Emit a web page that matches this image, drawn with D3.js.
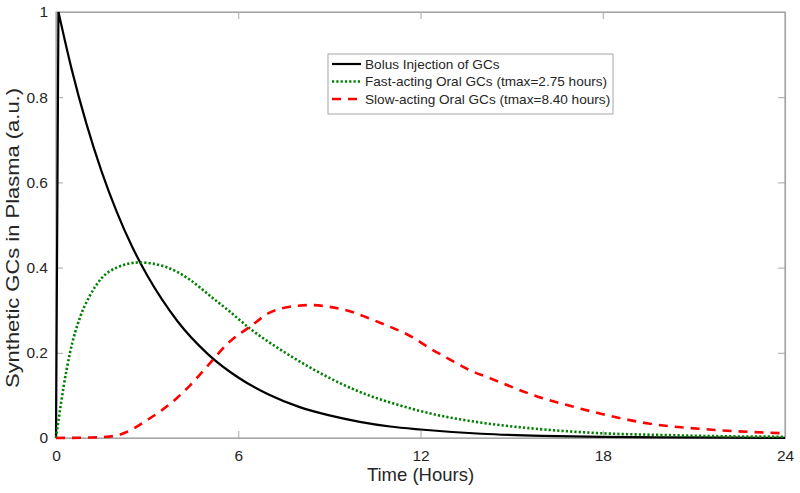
<!DOCTYPE html>
<html>
<head>
<meta charset="utf-8">
<script src="https://cdn.jsdelivr.net/npm/d3@7"></script>
<style>
  body { margin: 0; background: #fff; }
  text { font-family: Helvetica, Arial, "Liberation Sans", sans-serif; fill: #262626; }
</style>
</head>
<body>
<div id="chart"></div>
<script>
// values
const bolusT = [0, 0.08, 0.5, 1, 1.5, 2, 2.5, 3, 3.5, 4, 5, 6, 7, 8, 9, 10, 11, 12, 14, 16, 18, 20, 22, 24];
const bolusV = [0, 1, 0.87, 0.738, 0.626, 0.531, 0.45, 0.382, 0.324, 0.274, 0.197, 0.142, 0.102, 0.073, 0.053, 0.038, 0.027, 0.02, 0.01, 0.005, 0.0025, 0.0013, 0.0007, 0.0004];

const fastT = [0, 0.1, 0.25, 0.46, 0.8, 1.1, 1.5, 2, 2.75, 3.6, 4.4, 5.1, 5.7, 6.4, 7.4, 8.4, 9.4, 10.3, 11.3, 12.3, 14, 15.6, 18, 20, 22, 24];
const fastV = [0, 0.05, 0.12, 0.2, 0.285, 0.332, 0.375, 0.4, 0.412, 0.402, 0.372, 0.332, 0.298, 0.256, 0.207, 0.164, 0.127, 0.1, 0.077, 0.058, 0.036, 0.023, 0.011, 0.007, 0.004, 0.003];

const slowT = [0, 1, 1.5, 2, 2.5, 3, 3.5, 4, 4.5, 5, 5.7, 6.4, 7, 7.7, 8.4, 9, 9.7, 10.3, 11, 11.7, 12.3, 13, 13.6, 14.3, 15, 15.7, 17, 18, 19.5, 21.5, 24];
const slowV = [0, 0.001, 0.002, 0.006, 0.02, 0.042, 0.066, 0.095, 0.13, 0.17, 0.225, 0.262, 0.293, 0.308, 0.312, 0.308, 0.297, 0.281, 0.261, 0.238, 0.211, 0.183, 0.16, 0.14, 0.12, 0.101, 0.074, 0.056, 0.034, 0.02, 0.011];

const xTicks = [0, 6, 12, 18, 24];
const yTicks = [0, 0.2, 0.4, 0.6, 0.8, 1];
const yTickLabels = ["0", "0.2", "0.4", "0.6", "0.8", "1"];
const legendLabels = [
  "Bolus Injection of GCs",
  "Fast-acting Oral GCs (tmax=2.75 hours)",
  "Slow-acting Oral GCs (tmax=8.40 hours)"
];

const divWidth = 800;
const divHeight = 493;
const margins = { top: 12, bottom: 55, left: 56, right: 15 };
const width = divWidth - margins.left - margins.right;
const height = divHeight - margins.top - margins.bottom;
const frameColor = "#a6a6a6";
const tickLen = 7;

const series = [
  { t: bolusT, v: bolusV, color: "#000000", width: 2.2, dash: null },
  { t: fastT, v: fastV, color: "#008000", width: 2.6, dash: "2.2,2.1" },
  { t: slowT, v: slowV, color: "#ff0000", width: 2.6, dash: "9,7" }
];

const svg = d3.select("#chart")
  .append("svg")
  .attr("width", divWidth)
  .attr("height", divHeight);

const g = svg.append("g")
  .attr("transform", `translate(${margins.left},${margins.top})`);

const x = d3.scaleLinear().domain([0, 24]).range([0, width]);
const y = d3.scaleLinear().domain([0, 1]).range([height, 0]);

// box frame
g.append("rect")
  .attr("width", width)
  .attr("height", height)
  .attr("fill", "none")
  .attr("stroke", frameColor)
  .attr("stroke-width", 1.2);

// bottom + left axes with inward ticks
g.append("g")
  .attr("transform", `translate(0,${height})`)
  .call(d3.axisBottom(x).tickValues(xTicks).tickSizeInner(-tickLen).tickSizeOuter(0).tickPadding(12).tickFormat(d3.format("d")));

g.append("g")
  .call(d3.axisLeft(y).tickValues(yTicks).tickSizeInner(-tickLen).tickSizeOuter(0).tickPadding(8)
    .tickFormat((d, i) => yTickLabels[i]));

// mirror ticks on top and right
g.append("g")
  .call(d3.axisTop(x).tickValues(xTicks).tickSizeInner(-tickLen).tickSizeOuter(0).tickFormat(""));
g.append("g")
  .attr("transform", `translate(${width},0)`)
  .call(d3.axisRight(y).tickValues(yTicks).tickSizeInner(-tickLen).tickSizeOuter(0).tickFormat(""));

g.selectAll(".domain").attr("stroke", frameColor).attr("stroke-width", 1.2);
g.selectAll(".tick line").attr("stroke", frameColor);
g.selectAll(".tick text")
  .style("font-size", "15.5px")
  .attr("fill", "#262626");

// curves
const smooth = d3.line()
  .x(d => x(d[0]))
  .y(d => y(d[1]))
  .curve(d3.curveMonotoneX);
const straight = d3.line()
  .x(d => x(d[0]))
  .y(d => y(d[1]));

series.forEach((s, i) => {
  const pts = d3.zip(s.t, s.v);
  // bolus: sharp linear rise to the peak, then smooth decay
  const d = i === 0
    ? straight(pts.slice(0, 2)) + smooth(pts.slice(1)).replace(/^M/, "L")
    : smooth(pts);
  g.append("path")
    .attr("fill", "none")
    .attr("stroke", s.color)
    .attr("stroke-width", s.width)
    .attr("stroke-dasharray", s.dash)
    .attr("stroke-linejoin", "miter")
    .attr("d", d);
});

// axis labels
svg.append("text")
  .attr("x", margins.left + width / 2)
  .attr("y", 481)
  .attr("text-anchor", "middle")
  .style("font-size", "18.5px")
  .text("Time (Hours)");

svg.append("text")
  .attr("transform", "translate(19,238) rotate(-90)")
  .attr("text-anchor", "middle")
  .attr("textLength", 300)
  .attr("lengthAdjust", "spacingAndGlyphs")
  .style("font-size", "19px")
  .text("Synthetic GCs in Plasma (a.u.)");

// legend
const legend = svg.append("g").attr("transform", "translate(328,54)");
legend.append("rect")
  .attr("width", 285)
  .attr("height", 60)
  .attr("fill", "#fff")
  .attr("stroke", frameColor)
  .attr("stroke-width", 1);

const rowY = d3.scalePoint().domain(legendLabels).range([10, 45]);

legendLabels.forEach((lab, i) => {
  const s = series[i];
  legend.append("line")
    .attr("x1", 4).attr("x2", 33)
    .attr("y1", rowY(lab)).attr("y2", rowY(lab))
    .attr("stroke", s.color)
    .attr("stroke-width", s.width)
    .attr("stroke-dasharray", s.dash);
  legend.append("text")
    .attr("x", 37)
    .attr("y", rowY(lab))
    .attr("dy", "0.35em")
    .style("font-size", "13.6px")
    .attr("fill", "#000")
    .text(lab);
});
</script>
</body>
</html>
